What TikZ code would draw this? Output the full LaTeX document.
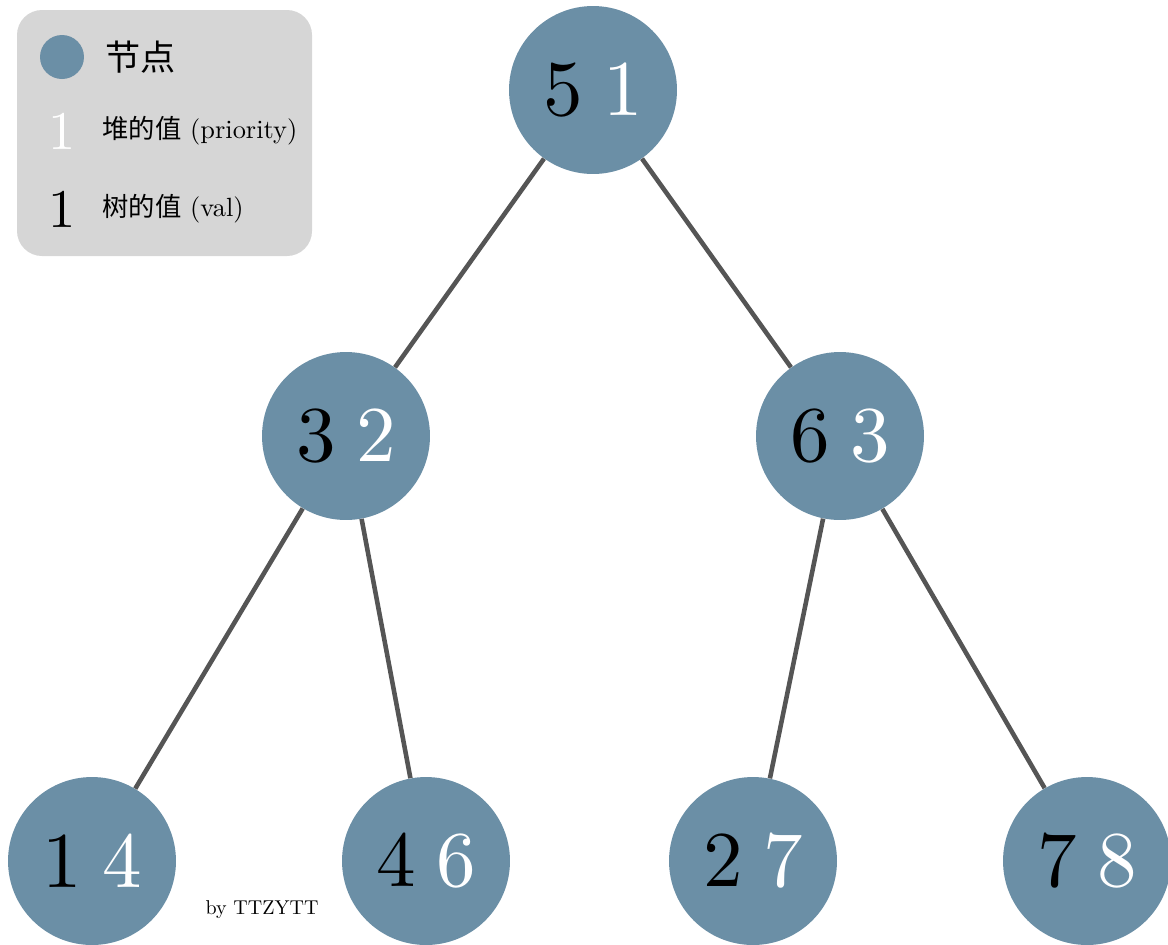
\documentclass[tikz,border=0pt]{standalone}
\usepackage{fontspec}
\setmainfont{lmroman10-regular.otf}
\newfontfamily\cjk{Noto Sans CJK SC}
\definecolor{nodeblue}{RGB}{107,143,166}
\definecolor{legendgray}{RGB}{214,214,214}
\definecolor{edgegray}{RGB}{85,85,85}
\newcommand{\tval}[2]{#1\hspace{0.26em}\textcolor{white}{#2}}
\begin{document}
\begin{tikzpicture}[x=0.02cm,y=-0.02cm,
  tnode/.style={circle,fill=nodeblue,minimum size=3.36cm,inner sep=0pt,font=\fontsize{45}{50}\selectfont},
  tedge/.style={draw=edgegray,line width=2.6pt},
  legtxt/.style={anchor=west,inner sep=0pt,font=\fontsize{15}{18}\selectfont}]
\useasboundingbox (0,0) rectangle (1168,944);
% legend
\fill[legendgray, rounded corners=0.5cm] (17,10) rectangle (312,256);
\node[circle,fill=nodeblue,minimum size=0.88cm,inner sep=0pt] (lgnode) at (62,57) {};
\node[anchor=west,inner sep=0pt,font=\cjk\fontsize{20}{24}\selectfont] (lgnodetxt) at (105,57) {节点};
\node[text=white,inner sep=0pt,font=\fontsize{31}{34}\selectfont] (lgw) at (62,131) {1};
\node[legtxt] (lgwtxt) at (102,131) {{\cjk 堆的值} (priority)};
\node[text=black,inner sep=0pt,font=\fontsize{31}{34}\selectfont] (lgb) at (62,209) {1};
\node[legtxt] (lgbtxt) at (102,209) {{\cjk 树的值} (val)};
% tree nodes
\node[tnode] (n51) at (593,90) {\tval{5}{1}};
\node[tnode] (n32) at (346,436) {\tval{3}{2}};
\node[tnode] (n63) at (840,436) {\tval{6}{3}};
\node[tnode] (n14) at (92,861) {\tval{1}{4}};
\node[tnode] (n46) at (426,861) {\tval{4}{6}};
\node[tnode] (n27) at (753,861) {\tval{2}{7}};
\node[tnode] (n78) at (1087,861) {\tval{7}{8}};
% edges
\draw[tedge] (n51) -- (n32);
\draw[tedge] (n51) -- (n63);
\draw[tedge] (n32) -- (n14);
\draw[tedge] (n32) -- (n46);
\draw[tedge] (n63) -- (n27);
\draw[tedge] (n63) -- (n78);
\node[font=\fontsize{11.4}{13}\selectfont,inner sep=0pt] (by) at (262,910) {by TTZYTT};
\end{tikzpicture}
\end{document}
